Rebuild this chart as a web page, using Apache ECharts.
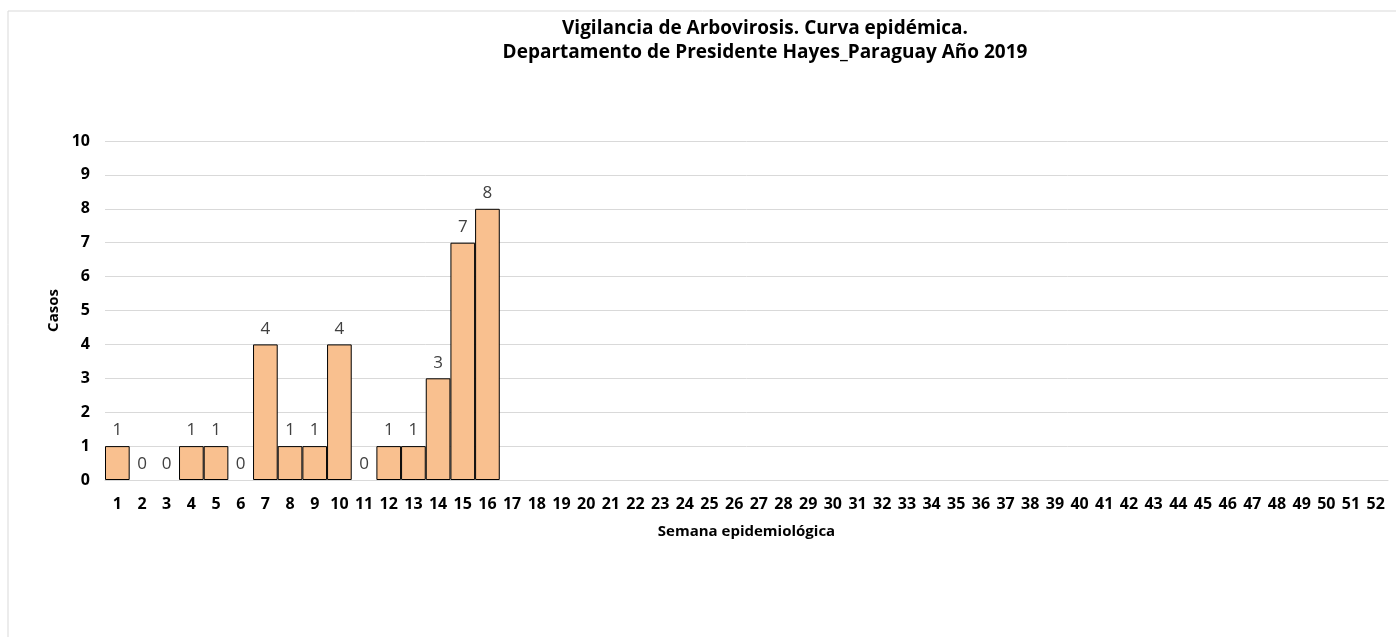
<!DOCTYPE html>
<html>
<head>
<meta charset="utf-8">
<script src="https://cdn.jsdelivr.net/npm/echarts@6/dist/echarts.min.js"></script>
<style>
  html, body { margin: 0; padding: 0; background: #fff; }
  #chart { width: 1396px; height: 637px; }
</style>
</head>
<body>
<div id="chart"></div>
<script>
// semanas epidemiologicas 1..52
var semanas = [];
for (var i = 1; i <= 52; i++) semanas.push('' + i);

// casos por semana (solo hasta la semana 16 hay datos)
var casos = [1, 0, 0, 1, 1, 0, 4, 1, 1, 4, 0, 1, 1, 3, 7, 8];

var yTicks = [0, 1, 2, 3, 4, 5, 6, 7, 8, 9, 10];

// las barras en cero no llevan borde
var barData = semanas.map(function (s, idx) {
  if (idx >= casos.length) return '-';
  var v = casos[idx];
  if (v === 0) return { value: v, itemStyle: { borderWidth: 0 } };
  return v;
});

var chart = echarts.init(document.getElementById('chart'));

var font = '"Open Sans", "Noto Sans", sans-serif';

var option = {
  animation: false,
  backgroundColor: '#fff',
  textStyle: { fontFamily: font },
  graphic: [{
    type: 'rect',
    shape: { x: 8, y: 11, width: 1400, height: 700 },
    style: { fill: 'none', stroke: '#d9d9d9', lineWidth: 1 },
    silent: true
  }],
  title: {
    text: 'Vigilancia de Arbovirosis. Curva epidémica.\nDepartamento de Presidente Hayes_Paraguay Año 2019',
    left: 760,
    top: 12,
    textAlign: 'center',
    textStyle: {
      fontFamily: font,
      fontSize: 19,
      fontWeight: 'bold',
      color: '#000',
      lineHeight: 24
    }
  },
  grid: {
    left: 105,
    right: 8,
    top: 141,
    bottom: 157
  },
  xAxis: {
    type: 'category',
    data: semanas,
    name: 'Semana epidemiológica',
    nameLocation: 'middle',
    nameGap: 44,
    nameTextStyle: { fontFamily: font, fontSize: 15, fontWeight: 'bold', color: '#000' },
    axisTick: { show: false },
    axisLine: { lineStyle: { color: '#d9d9d9', width: 1 } },
    axisLabel: {
      interval: 0,
      margin: 16,
      fontFamily: font,
      fontSize: 16,
      fontWeight: 'bold',
      color: '#000'
    }
  },
  yAxis: {
    type: 'value',
    min: yTicks[0],
    max: yTicks[yTicks.length - 1],
    interval: 1,
    name: 'Casos',
    nameLocation: 'middle',
    nameRotate: 90,
    nameGap: 42,
    nameTextStyle: { fontFamily: font, fontSize: 15, fontWeight: 'bold', color: '#000' },
    axisLine: { show: false },
    axisTick: { show: false },
    splitLine: { lineStyle: { color: '#d9d9d9', width: 1 } },
    axisLabel: {
      margin: 15,
      fontFamily: font,
      fontSize: 16,
      fontWeight: 'bold',
      color: '#000'
    }
  },
  series: [{
    name: 'Casos',
    type: 'bar',
    data: barData,
    barCategoryGap: '0%',
    itemStyle: {
      color: '#f9c08f',
      borderColor: '#000',
      borderWidth: 1
    },
    label: {
      show: true,
      position: 'top',
      distance: 7,
      fontFamily: font,
      fontSize: 17,
      color: '#404040'
    }
  }]
};

chart.setOption(option);
</script>
</body>
</html>
